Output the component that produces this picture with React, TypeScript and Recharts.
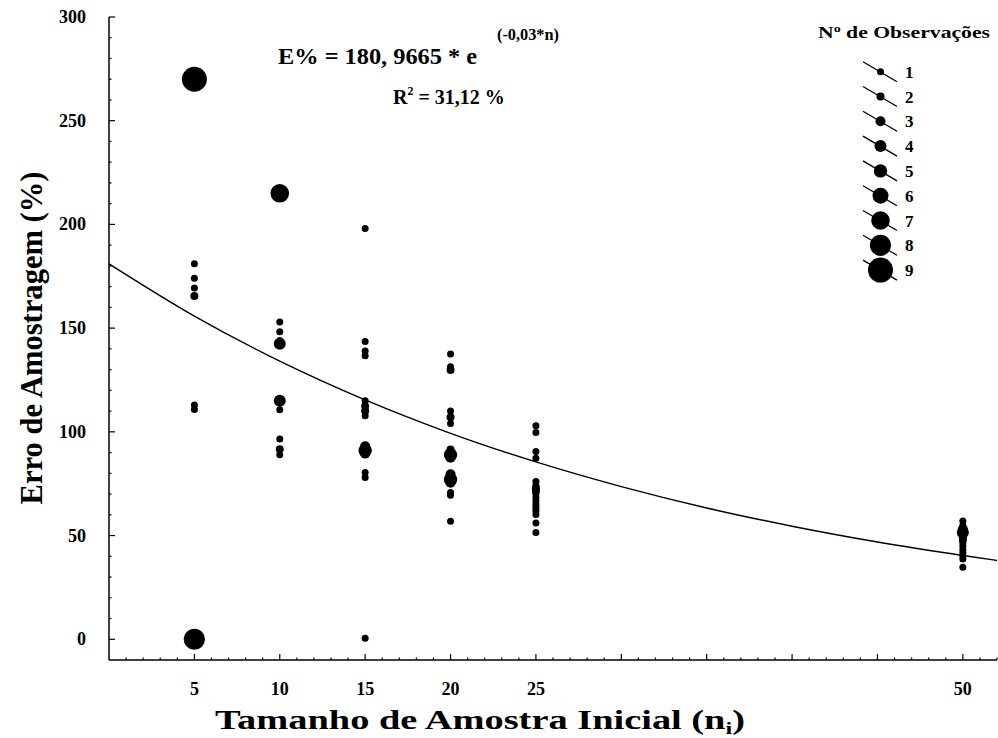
import { ComposedChart, Line, Scatter, XAxis, YAxis } from "recharts";

// tamanho de amostra inicial (n) e erros lidos em cada coluna
const tamanhos = [5, 10, 15, 20, 25, 50];

const erro05 = [270, 181, 174, 169.3, 165.5, 112.9, 110.8, 0];
const obs05 = [9, 1, 1, 1, 2, 1, 1, 8];

const erro10 = [215, 153, 148.2, 144, 142.5, 115, 110.6, 96.5, 91.6, 89];
const obs10 = [7, 1, 1, 1, 4, 4, 1, 1, 2, 1];

const erro15 = [198, 143.6, 139, 136.7, 115, 112.3, 110, 107.8, 93, 91, 89.5, 80.4, 78, 0.5];
const obs15 = [1, 1, 1, 1, 1, 2, 2, 1, 3, 5, 3, 1, 1, 1];

const erro20 = [137.5, 131.4, 129.8, 110.1, 107, 104, 91.5, 89, 87.5, 79.5, 77, 75.5, 70.8, 69.4, 56.9];
const obs20 = [1, 1, 2, 1, 2, 1, 2, 5, 3, 3, 5, 3, 1, 1, 1];

const erro25 = [102.9, 99.7, 90.5, 87.3, 76, 74.3, 72.8, 71.5, 70, 68.3, 66.7, 65, 63.5, 62, 60.2, 56, 51.5];
const obs25 = [1, 1, 1, 1, 1, 1, 2, 2, 1, 1, 1, 1, 1, 1, 1, 1, 1];

const erro50 = [57, 54.8, 53, 51.5, 49, 47.8, 46.5, 45, 43.3, 41.8, 40.3, 38.7, 34.7];
const obs50 = [1, 1, 3, 4, 2, 2, 1, 1, 1, 1, 1, 1, 1];

// curva ajustada
const curvaN = [0, 5, 10, 15, 20, 25, 30, 35, 40, 45, 50, 52];
const curvaErro = [181.0, 155.8, 134.1, 115.4, 99.3, 85.5, 73.6, 63.3, 54.5, 46.9, 40.4, 38.0];

const xTickLabels = [5, 10, 15, 20, 25, 50];
const yTickLabels = [0, 50, 100, 150, 200, 250, 300];
const legendObs = [1, 2, 3, 4, 5, 6, 7, 8, 9];

const xTicks = Array.from({ length: 52 }, (_, i) => i + 1);
const yTicks = Array.from({ length: 31 }, (_, i) => i * 10);

// raio do círculo por nº de observações
const raio: Record<number, number> = { 1: 3.5, 2: 4, 3: 5, 4: 6, 5: 6.7, 6: 8, 7: 9.3, 8: 10.6, 9: 12.5 };

const FONT = "Liberation Serif";
const txt = { fontFamily: FONT, fontWeight: 700 } as const;

const colunas = [erro05, erro10, erro15, erro20, erro25, erro50];
const obsColunas = [obs05, obs10, obs15, obs20, obs25, obs50];

const pontos = tamanhos.flatMap((n, i) =>
  colunas[i].map((e, j) => ({ n, e, obs: obsColunas[i][j] }))
);
const curva = curvaN.map((n, i) => ({ n, e: curvaErro[i] }));

const XTick = (props: any) => {
  const { x, y, payload } = props;
  const v = payload.value;
  const major = v % 5 === 0;
  return (
    <g>
      <line x1={x} x2={x} y1={y} y2={y - (major ? 6 : 2.5)} stroke="#000" strokeWidth={1.2} />
      {xTickLabels.includes(v) && (
        <text x={x} y={y + 35} textAnchor="middle" style={txt} fontSize={18} fill="#000">
          {v}
        </text>
      )}
    </g>
  );
};

const YTick = (props: any) => {
  const { x, y, payload } = props;
  const v = payload.value;
  const major = v % 50 === 0;
  return (
    <g>
      <line x1={x} x2={x + (major ? 6 : 2.5)} y1={y} y2={y} stroke="#000" strokeWidth={1.2} />
      {yTickLabels.includes(v) && (
        <text x={x - 23} y={y + 6} textAnchor="end" style={txt} fontSize={18} fill="#000">
          {v}
        </text>
      )}
    </g>
  );
};

const Bolinha = (props: any) => {
  const { cx, cy, payload } = props;
  return <circle cx={cx} cy={cy} r={raio[payload.obs]} fill="#000" />;
};

export default function App() {
  return (
    <div style={{ position: "absolute", left: 0, top: 0, width: 998, height: 738, background: "#fff" }}>
      <ComposedChart width={998} height={738} data={curva} margin={{ top: 17, right: 1, bottom: 0, left: 0 }}>
        <XAxis
          type="number"
          dataKey="n"
          domain={[0, 52]}
          ticks={xTicks}
          interval={0}
          allowDataOverflow
          height={78}
          tickSize={0}
          tickMargin={0}
          tickLine={false}
          tick={<XTick />}
          axisLine={{ stroke: "#000", strokeWidth: 1.5 }}
        />
        <YAxis
          type="number"
          dataKey="e"
          domain={[-10, 300]}
          ticks={yTicks}
          interval={0}
          allowDataOverflow
          width={109}
          tickSize={0}
          tickMargin={0}
          tickLine={false}
          tick={<YTick />}
          axisLine={{ stroke: "#000", strokeWidth: 1.5 }}
        />
        <Line
          type="monotone"
          dataKey="e"
          stroke="#000"
          strokeWidth={1.4}
          dot={false}
          activeDot={false}
          isAnimationActive={false}
        />
        <Scatter data={pontos} dataKey="e" shape={<Bolinha />} isAnimationActive={false} />
      </ComposedChart>

      <svg width={998} height={738} style={{ position: "absolute", left: 0, top: 0, pointerEvents: "none" }}>
        <g style={txt} fill="#000">
          <text x={32} y={338} fontSize={31} textAnchor="middle" transform="rotate(-90 32 338)" dy={10}
            textLength={333} lengthAdjust="spacingAndGlyphs">
            Erro de Amostragem (%)
          </text>
          <text x={215} y={729} fontSize={27} textLength={530} lengthAdjust="spacingAndGlyphs">
            Tamanho de Amostra Inicial (n<tspan fontSize={17} dy={5}>i</tspan><tspan dy={-5}>)</tspan>
          </text>

          <text x={278} y={64} fontSize={24} textLength={199} lengthAdjust="spacingAndGlyphs">
            E% = 180, 9665 * e
          </text>
          <text x={497} y={40} fontSize={16} textLength={62} lengthAdjust="spacingAndGlyphs">
            (-0,03*n)
          </text>
          <text x={393} y={104} fontSize={20}>
            R<tspan fontSize={12} dy={-9}>2</tspan><tspan dy={9}> = 31,12 %</tspan>
          </text>

          <text x={818} y={38} fontSize={17} textLength={172} lengthAdjust="spacingAndGlyphs">
            N<tspan fontSize={11} dy={-6}>o</tspan><tspan dy={6}> de Observações</tspan>
          </text>
          {legendObs.map((o, i) => {
            const cy = 71.7 + i * 24.8;
            return (
              <g key={o}>
                <line x1={863} y1={cy - 10} x2={897} y2={cy + 10} stroke="#000" strokeWidth={1.3} />
                <circle cx={880.5} cy={cy} r={raio[o]} fill="#000" />
                <text x={905} y={cy + 6} fontSize={17}>{o}</text>
              </g>
            );
          })}
        </g>
      </svg>
    </div>
  );
}
